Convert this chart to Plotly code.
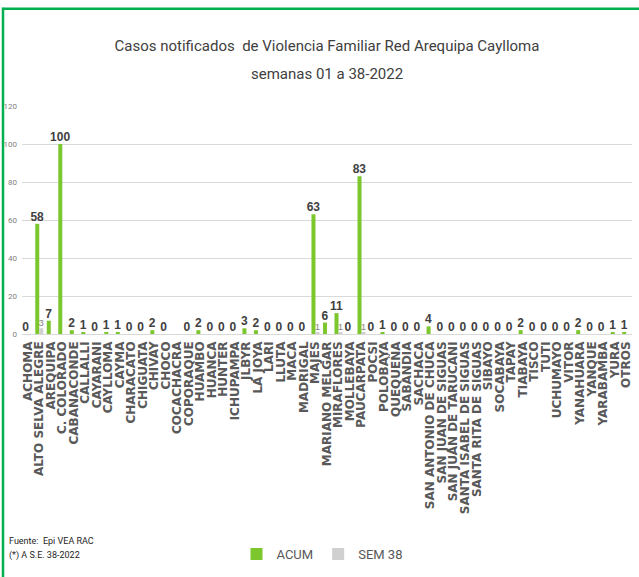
import plotly.graph_objects as go

categories = ["ACHOMA", "ALTO SELVA ALEGRE", "AREQUIPA", "C. COLORADO", "CABANACONDE", "CALLALLI",
              "CAYARANI", "CAYLLOMA", "CAYMA", "CHARACATO", "CHIGUATA", "CHIVAY", "CHOCO",
              "COCACHACRA", "COPORAQUE", "HUAMBO", "HUANCA", "HUNTER", "ICHUPAMPA", "JLBYR",
              "LA JOYA", "LARI", "LLUTA", "MACA", "MADRIGAL", "MAJES", "MARIANO MELGAR",
              "MIRAFLORES", "MOLLEBAYA", "PAUCARPATA", "POCSI", "POLOBAYA", "QUEQUEÑA",
              "SABANDIA", "SACHACA", "SAN ANTONIO DE CHUCA", "SAN JUAN DE SIGUAS",
              "SAN JUAN DE TARUCANI", "SANTA ISABEL DE SIGUAS", "SANTA RITA DE SIGUAS", "SIBAYO",
              "SOCABAYA", "TAPAY", "TIABAYA", "TISCO", "TUTI", "UCHUMAYO", "VITOR", "YANAHUARA",
              "YANQUE", "YARABAMBA", "YURA", "OTROS"]

acum = [0, 58, 7, 100, 2, 1, 0, 1, 1, 0, 0, 2, 0,
        None, 0, 2, 0, 0, 0, 3, 2, 0, 0, 0, 0, 63, 6,
        11, 0, 83, 0, 1, 0, 0, 0, 4, 0,
        0, 0, 0, 0, 0, 0, 2, 0, 0, 0, 0, 2, 0, 0, 1, 1]

sem38 = [None, 3, None, None, None, None, None, None, None, None, None, None, None,
         None, None, None, None, None, None, None, None, None, None, None, None, 1, None,
         1, None, 1, None, None, None, None, None, None, None,
         None, None, None, None, None, None, None, None, None, None, None, None, None, None, None, None]

title_line1 = "Casos notificados  de Violencia Familiar Red Arequipa Caylloma"
title_line2 = "semanas 01 a 38-2022"
y_ticks = [0, 20, 40, 60, 80, 100, 120]

NARROW = "Liberation Sans Narrow, Roboto, Liberation Sans, sans-serif"
SANS = "Liberation Sans, Arial, sans-serif"

W, H = 639, 577
L, R, T, B = 22, 7, 106, 239
PW, PH = W - L - R, H - T - B


def px(x):
    return (x - L) / PW


def py(y):
    return (H - B - y) / PH


fig = go.Figure()
fig.add_trace(go.Bar(
    name="ACUM", x=categories, y=acum,
    marker=dict(color="#7CC62E", line=dict(width=0)),
    text=["" if v is None else str(v) for v in acum],
    textposition="outside", textangle=0, constraintext="none", cliponaxis=False,
    textfont=dict(family=SANS, size=12, color="#404040", weight="bold"),
))
fig.add_trace(go.Bar(
    name="SEM 38", x=categories, y=sem38,
    marker=dict(color="#D0D0D0", line=dict(width=0)),
    text=["" if not v else str(v) for v in sem38],
    textposition="outside", textangle=0, constraintext="none", cliponaxis=False,
    textfont=dict(family=SANS, size=9, color="#7F7F7F"),
))

fig.update_layout(
    width=W, height=H,
    margin=dict(l=L, r=R, t=T, b=B),
    paper_bgcolor="white", plot_bgcolor="white",
    barmode="group", bargap=0.3, bargroupgap=0,
    title=dict(text=title_line1, x=0.5, xanchor="center", xref="paper",
               y=1 - 46 / H, yanchor="middle",
               font=dict(family=NARROW, size=15, color="#404040")),
    showlegend=True,
    legend=dict(orientation="h", x=px(322), y=py(562), xanchor="center", yanchor="middle",
                font=dict(family=NARROW, size=13, color="#595959"),
                itemwidth=30, traceorder="normal"),
    xaxis=dict(tickangle=-90, automargin=False, showgrid=False, showline=False, ticks="",
               tickmode="linear", tick0=0, dtick=1, ticklabelstandoff=4,
               tickfont=dict(family="DejaVu Sans", size=12, color="#595959", weight="bold")),
    yaxis=dict(range=[0, 120], tickvals=y_ticks, automargin=False,
               showgrid=True, gridcolor="#D9D9D9", gridwidth=1,
               zeroline=True, zerolinecolor="#D9D9D9", zerolinewidth=1,
               showline=False, ticks="", ticklabelstandoff=4,
               tickfont=dict(family=NARROW, size=8, color="#808080")),
    shapes=[
        dict(type="line", xref="paper", yref="paper", x0=px(3), x1=px(3), y0=py(6), y1=py(590),
             line=dict(color="#00B050", width=2.5)),
        dict(type="line", xref="paper", yref="paper", x0=px(2), x1=px(650), y0=py(7), y1=py(7),
             line=dict(color="#00B050", width=2.5)),
    ],
    annotations=[
        dict(text=title_line2, xref="paper", yref="paper", x=0.5, y=py(73),
             xanchor="center", yanchor="middle", showarrow=False,
             font=dict(family=NARROW, size=15, color="#404040")),
        dict(text="Fuente:  Epi VEA RAC", xref="paper", yref="paper", x=px(7), y=py(549),
             xanchor="left", yanchor="middle", showarrow=False,
             font=dict(family=NARROW, size=9, color="#262626")),
        dict(text="(*) A S.E. 38-2022", xref="paper", yref="paper", x=px(7), y=py(563),
             xanchor="left", yanchor="middle", showarrow=False,
             font=dict(family=NARROW, size=9, color="#262626")),
    ],
)

fig.write_html("out.html", config={"displayModeBar": False},
               post_script="document.body.style.margin='0';document.body.style.overflow='hidden';")
